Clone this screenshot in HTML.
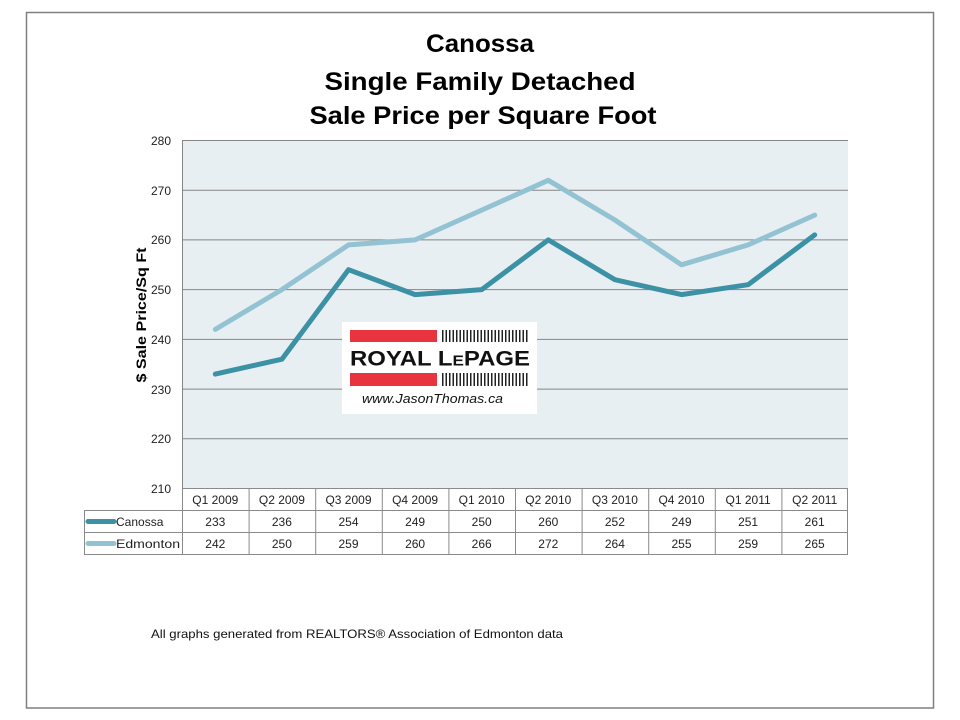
<!DOCTYPE html>
<html><head><meta charset="utf-8"><style>
html,body{margin:0;padding:0;background:#fff;}
svg{display:block;}
text{font-family:"Liberation Sans",Arial,sans-serif;}
</style></head><body>
<svg width="960" height="720" viewBox="0 0 960 720" xmlns="http://www.w3.org/2000/svg">
<rect x="0" y="0" width="960" height="720" fill="#fff"/>
<rect x="26.5" y="12.5" width="907" height="695.5" fill="none" stroke="#808080" stroke-width="1.5"/>

<!-- Title -->
<g font-weight="bold" fill="#000" text-anchor="middle" font-size="25">
<text x="480" y="52" textLength="108" lengthAdjust="spacingAndGlyphs">Canossa</text>
<text x="480" y="90" textLength="311" lengthAdjust="spacingAndGlyphs">Single Family Detached</text>
<text x="483" y="124" textLength="347" lengthAdjust="spacingAndGlyphs">Sale Price per Square Foot</text>
</g>

<!-- Plot area -->
<rect x="182" y="140.5" width="666" height="348" fill="#E8EFF3"/>
<g stroke="#858585" stroke-width="1">
<line x1="182" y1="140.5" x2="848" y2="140.5"/>
<line x1="182" y1="190.2" x2="848" y2="190.2"/>
<line x1="182" y1="239.9" x2="848" y2="239.9"/>
<line x1="182" y1="289.6" x2="848" y2="289.6"/>
<line x1="182" y1="339.4" x2="848" y2="339.4"/>
<line x1="182" y1="389.1" x2="848" y2="389.1"/>
<line x1="182" y1="438.8" x2="848" y2="438.8"/>
<line x1="182.5" y1="140.5" x2="182.5" y2="488.5"/>
</g>

<!-- Y tick labels -->
<g font-size="12" fill="#222" text-anchor="end">
<text x="171" y="145">280</text>
<text x="171" y="195">270</text>
<text x="171" y="244">260</text>
<text x="171" y="294">250</text>
<text x="171" y="344">240</text>
<text x="171" y="394">230</text>
<text x="171" y="443">220</text>
<text x="171" y="493">210</text>
</g>

<!-- Y axis title -->
<text transform="translate(146,315) rotate(-90)" text-anchor="middle" font-size="14" font-weight="bold" fill="#000" textLength="135" lengthAdjust="spacingAndGlyphs">$ Sale Price/Sq Ft</text>

<!-- Series -->
<polyline fill="none" stroke="#93C3D2" stroke-width="5" stroke-linejoin="round" stroke-linecap="round"
 points="215.3,329.4 281.9,289.6 348.5,244.9 415.1,239.9 481.7,210.1 548.3,180.3 614.9,220.0 681.5,264.8 748.1,244.9 814.7,215.1"/>
<polyline fill="none" stroke="#3C91A5" stroke-width="5" stroke-linejoin="round" stroke-linecap="round"
 points="215.3,374.1 281.9,359.2 348.5,269.7 415.1,294.6 481.7,289.6 548.3,239.9 614.9,279.7 681.5,294.6 748.1,284.7 814.7,234.9"/>

<!-- Logo -->
<rect x="342" y="322" width="195" height="92" fill="#fff"/>
<rect x="350" y="330" width="87" height="12" fill="#E8343F"/>
<rect x="350" y="373" width="87" height="13" fill="#E8343F"/>
<g fill="#222">
<rect x="442" y="330" width="1.5" height="12"/><rect x="445.5" y="330" width="1.5" height="12"/><rect x="449" y="330" width="1.5" height="12"/><rect x="452.5" y="330" width="1.5" height="12"/><rect x="456" y="330" width="1.5" height="12"/><rect x="459.5" y="330" width="1.5" height="12"/><rect x="463" y="330" width="1.5" height="12"/><rect x="466.5" y="330" width="1.5" height="12"/><rect x="470" y="330" width="1.5" height="12"/><rect x="473.5" y="330" width="1.5" height="12"/><rect x="477" y="330" width="1.5" height="12"/><rect x="480.5" y="330" width="1.5" height="12"/><rect x="484" y="330" width="1.5" height="12"/><rect x="487.5" y="330" width="1.5" height="12"/><rect x="491" y="330" width="1.5" height="12"/><rect x="494.5" y="330" width="1.5" height="12"/><rect x="498" y="330" width="1.5" height="12"/><rect x="501.5" y="330" width="1.5" height="12"/><rect x="505" y="330" width="1.5" height="12"/><rect x="508.5" y="330" width="1.5" height="12"/><rect x="512" y="330" width="1.5" height="12"/><rect x="515.5" y="330" width="1.5" height="12"/><rect x="519" y="330" width="1.5" height="12"/><rect x="522.5" y="330" width="1.5" height="12"/><rect x="526" y="330" width="1.5" height="12"/>
<rect x="442" y="373" width="1.5" height="13"/><rect x="445.5" y="373" width="1.5" height="13"/><rect x="449" y="373" width="1.5" height="13"/><rect x="452.5" y="373" width="1.5" height="13"/><rect x="456" y="373" width="1.5" height="13"/><rect x="459.5" y="373" width="1.5" height="13"/><rect x="463" y="373" width="1.5" height="13"/><rect x="466.5" y="373" width="1.5" height="13"/><rect x="470" y="373" width="1.5" height="13"/><rect x="473.5" y="373" width="1.5" height="13"/><rect x="477" y="373" width="1.5" height="13"/><rect x="480.5" y="373" width="1.5" height="13"/><rect x="484" y="373" width="1.5" height="13"/><rect x="487.5" y="373" width="1.5" height="13"/><rect x="491" y="373" width="1.5" height="13"/><rect x="494.5" y="373" width="1.5" height="13"/><rect x="498" y="373" width="1.5" height="13"/><rect x="501.5" y="373" width="1.5" height="13"/><rect x="505" y="373" width="1.5" height="13"/><rect x="508.5" y="373" width="1.5" height="13"/><rect x="512" y="373" width="1.5" height="13"/><rect x="515.5" y="373" width="1.5" height="13"/><rect x="519" y="373" width="1.5" height="13"/><rect x="522.5" y="373" width="1.5" height="13"/><rect x="526" y="373" width="1.5" height="13"/>
</g>
<text x="350" y="365.5" font-size="21" font-weight="bold" fill="#111" textLength="180" lengthAdjust="spacingAndGlyphs">ROYAL L<tspan font-size="15">E</tspan>PAGE</text>
<text x="362" y="403" font-size="13" font-style="italic" fill="#111" textLength="141" lengthAdjust="spacingAndGlyphs">www.JasonThomas.ca</text>

<!-- Table -->
<g stroke="#8a8a8a" stroke-width="1" fill="none">
<line x1="182" y1="488.5" x2="848" y2="488.5"/>
<line x1="84" y1="510.5" x2="848" y2="510.5"/>
<line x1="84" y1="532.5" x2="848" y2="532.5"/>
<line x1="84" y1="554.5" x2="848" y2="554.5"/>
<line x1="84.5" y1="510.5" x2="84.5" y2="554.5"/>
<line x1="182.5" y1="488.5" x2="182.5" y2="554.5"/>
<line x1="249.1" y1="488.5" x2="249.1" y2="554.5"/>
<line x1="315.7" y1="488.5" x2="315.7" y2="554.5"/>
<line x1="382.3" y1="488.5" x2="382.3" y2="554.5"/>
<line x1="448.9" y1="488.5" x2="448.9" y2="554.5"/>
<line x1="515.5" y1="488.5" x2="515.5" y2="554.5"/>
<line x1="582.1" y1="488.5" x2="582.1" y2="554.5"/>
<line x1="648.7" y1="488.5" x2="648.7" y2="554.5"/>
<line x1="715.3" y1="488.5" x2="715.3" y2="554.5"/>
<line x1="781.9" y1="488.5" x2="781.9" y2="554.5"/>
<line x1="847.5" y1="488.5" x2="847.5" y2="554.5"/>
</g>
<g font-size="12" fill="#222" text-anchor="middle">
<text x="215.3" y="504">Q1 2009</text>
<text x="281.9" y="504">Q2 2009</text>
<text x="348.5" y="504">Q3 2009</text>
<text x="415.1" y="504">Q4 2009</text>
<text x="481.7" y="504">Q1 2010</text>
<text x="548.3" y="504">Q2 2010</text>
<text x="614.9" y="504">Q3 2010</text>
<text x="681.5" y="504">Q4 2010</text>
<text x="748.1" y="504">Q1 2011</text>
<text x="814.7" y="504">Q2 2011</text>

<text x="215.3" y="526">233</text>
<text x="281.9" y="526">236</text>
<text x="348.5" y="526">254</text>
<text x="415.1" y="526">249</text>
<text x="481.7" y="526">250</text>
<text x="548.3" y="526">260</text>
<text x="614.9" y="526">252</text>
<text x="681.5" y="526">249</text>
<text x="748.1" y="526">251</text>
<text x="814.7" y="526">261</text>

<text x="215.3" y="548">242</text>
<text x="281.9" y="548">250</text>
<text x="348.5" y="548">259</text>
<text x="415.1" y="548">260</text>
<text x="481.7" y="548">266</text>
<text x="548.3" y="548">272</text>
<text x="614.9" y="548">264</text>
<text x="681.5" y="548">255</text>
<text x="748.1" y="548">259</text>
<text x="814.7" y="548">265</text>
</g>
<line x1="88" y1="521.5" x2="114" y2="521.5" stroke="#3C91A5" stroke-width="5" stroke-linecap="round"/>
<line x1="88" y1="543.5" x2="114" y2="543.5" stroke="#93C3D2" stroke-width="5" stroke-linecap="round"/>
<g font-size="12" fill="#222">
<text x="116" y="526">Canossa</text>
<text x="116" y="548" textLength="64" lengthAdjust="spacingAndGlyphs">Edmonton</text>
</g>

<!-- Footer -->
<text x="151" y="638" font-size="12" fill="#111" textLength="412" lengthAdjust="spacingAndGlyphs">All graphs generated from REALTORS® Association of Edmonton data</text>
</svg>
</body></html>
